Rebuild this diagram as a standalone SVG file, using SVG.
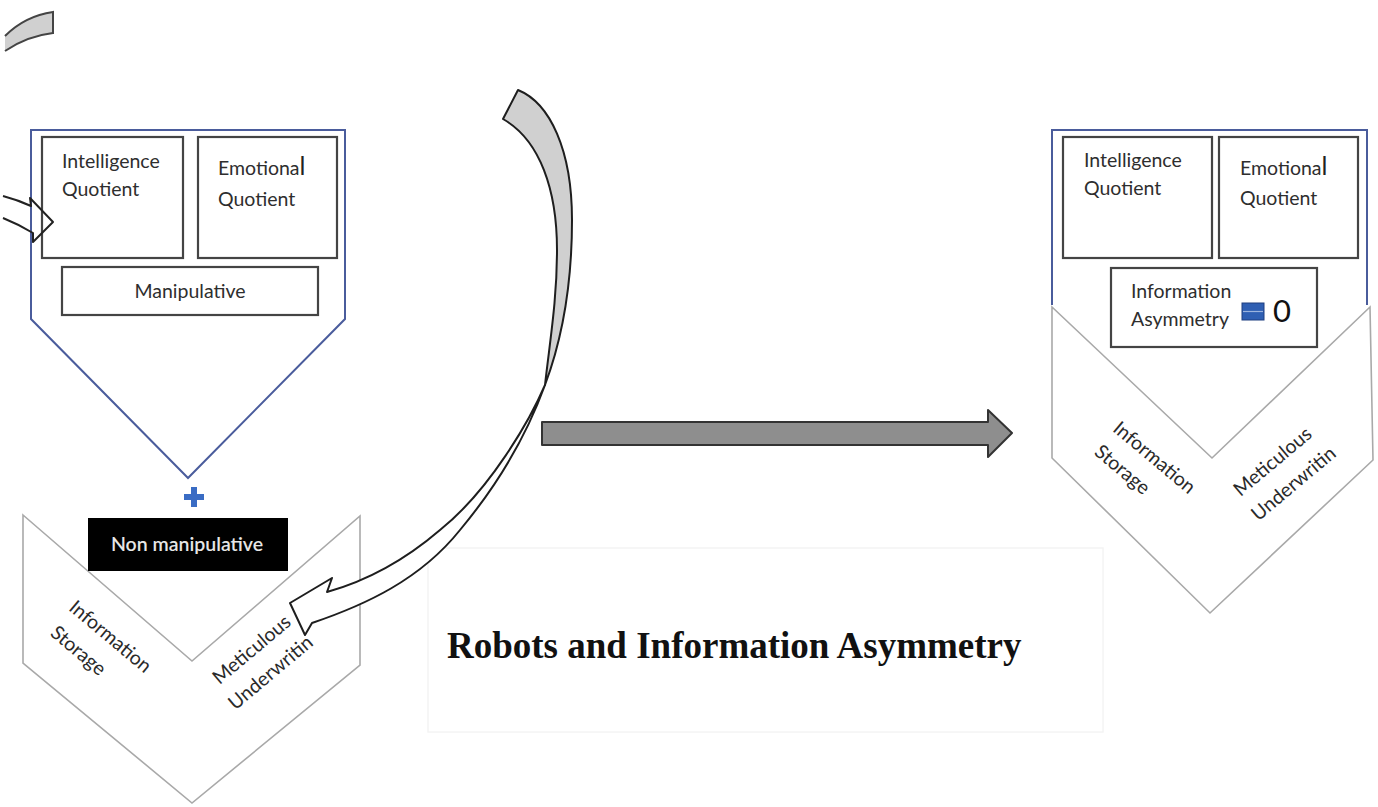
<svg xmlns="http://www.w3.org/2000/svg" width="1378" height="807" viewBox="0 0 1378 807">
<style>
  .frame{fill:none;stroke:#4a5c9c;stroke-width:2}
  .box{fill:none;stroke:#444;stroke-width:2.2}
  .chev{fill:#fff;stroke:#a9a9a9;stroke-width:1.6}
  .lbl{font-family:Lato,"Open Sans",sans-serif;font-size:19.5px;fill:#2e2e2e}
  .rot{font-family:Lato,"Open Sans",sans-serif;font-size:19.5px;fill:#2a2a2a;text-anchor:middle}
  .ink{stroke:#1e1e1e;stroke-width:2;stroke-linejoin:round}
</style>
<rect width="1378" height="807" fill="#fff"/>

<g id="title">
  <rect x="428" y="548" width="675" height="184" fill="none" stroke="#f4f4f4" stroke-width="1.5"/>
  <text x="447" y="658" font-family="'Liberation Serif','Times New Roman',serif" font-weight="bold" font-size="37" fill="#111">Robots and Information Asymmetry</text>
</g>

<g id="left-chevron">
  <polygon class="chev" points="23,515 192,661 360,516 360,665 192,803 23,663"/>
  <text class="rot" transform="translate(110,637) rotate(40)" y="6">Information</text>
  <text class="rot" transform="translate(78,651) rotate(40)" y="6">Storage</text>
  <text class="rot" transform="translate(252,650) rotate(-40)" y="6">Meticulous</text>
  <text class="rot" transform="translate(271,673) rotate(-40)" y="6">Underwritin</text>
</g>

<g id="left-panel">
  <polygon class="frame" points="31,130 345,130 345,319 188,478 31,319"/>
  <rect class="box" x="42" y="137" width="141" height="121"/>
  <text class="lbl" x="62" y="168">Intelligence</text>
  <text class="lbl" x="62" y="196">Quotient</text>
  <rect class="box" x="198" y="137" width="139" height="121"/>
  <text class="lbl" x="218" y="175">Emotiona<tspan font-size="25" fill="#222">l</tspan></text>
  <text class="lbl" x="218" y="206">Quotient</text>
  <rect class="box" x="62" y="267" width="256" height="48"/>
  <text class="lbl" x="190" y="298" text-anchor="middle">Manipulative</text>
</g>

<g id="plus">
  <path d="M191,487 h6 v7 h7 v6 h-7 v7 h-6 v-7 h-7 v-6 h7 z" fill="#3a6cc4"/>
</g>

<g id="non-manipulative">
  <rect x="88" y="518" width="200" height="53" fill="#000"/>
  <text x="187" y="551" text-anchor="middle" font-family="Lato,'Open Sans',sans-serif" font-size="19.5" font-weight="600" fill="#e6e6e6">Non manipulative</text>
</g>

<g id="right-chevron">
  <polygon class="chev" points="1052,307 1212,458 1370,307 1373,460 1210,613 1052,458"/>
  <text class="rot" transform="translate(1154,458) rotate(40)" y="6">Information</text>
  <text class="rot" transform="translate(1122,470) rotate(40)" y="6">Storage</text>
  <text class="rot" transform="translate(1273,462) rotate(-40)" y="6">Meticulous</text>
  <text class="rot" transform="translate(1294,484) rotate(-40)" y="6">Underwritin</text>
</g>

<g id="right-panel">
  <polyline class="frame" points="1052,305 1052,130 1367,130 1367,305"/>
  <rect class="box" x="1063" y="137" width="149" height="121"/>
  <text class="lbl" x="1084" y="167">Intelligence</text>
  <text class="lbl" x="1084" y="195">Quotient</text>
  <rect class="box" x="1219" y="137" width="139" height="121"/>
  <text class="lbl" x="1240" y="175">Emotiona<tspan font-size="25" fill="#222">l</tspan></text>
  <text class="lbl" x="1240" y="205">Quotient</text>
  <rect class="box" x="1111" y="268" width="206" height="79"/>
  <text class="lbl" x="1131" y="298">Information</text>
  <text class="lbl" x="1131" y="326">Asymmetry</text>
  <rect x="1242" y="303" width="22" height="17" fill="#2f5fb3" stroke="#1f3f80" stroke-width="1"/>
  <line x1="1243" y1="311.5" x2="1263" y2="311.5" stroke="#9bb3de" stroke-width="1.2"/>
  <text x="1273" y="322" font-family="Lato,'Open Sans',sans-serif" font-size="31" fill="#111">0</text>
</g>

<g id="connectors">
  <path d="M5,36 Q25,16 53,12 L53,33 Q27,36 5,51" fill="#d0d0d0" stroke="#444" stroke-width="2"/>
  <path d="M3,196 Q18,200 31,206 L30,198 L53,222 L33,242 L33,233 Q18,224 3,218" fill="none" stroke="#222" stroke-width="2" stroke-linejoin="round"/>
  <path class="ink" d="M503,119 L518,90 C550,103 572,150 572,220 C572,290 560,345 545,385 C550,340 557,300 557,250 C557,190 540,140 503,119 Z" fill="#d0d0d0"/>
  <path class="ink" d="M545,385 C530,420 490,490 440,530 C405,560 370,580 327,592 L332,578 L290,603 L305,635 L312,623 C365,605 420,580 460,530 C495,488 525,440 545,385 Z" fill="#fff"/>
  <polygon points="542,422 988,422 988,410 1012,433 988,457 988,445 542,445" fill="#8e8e8e" stroke="#333" stroke-width="2" stroke-linejoin="round"/>
</g>
</svg>
